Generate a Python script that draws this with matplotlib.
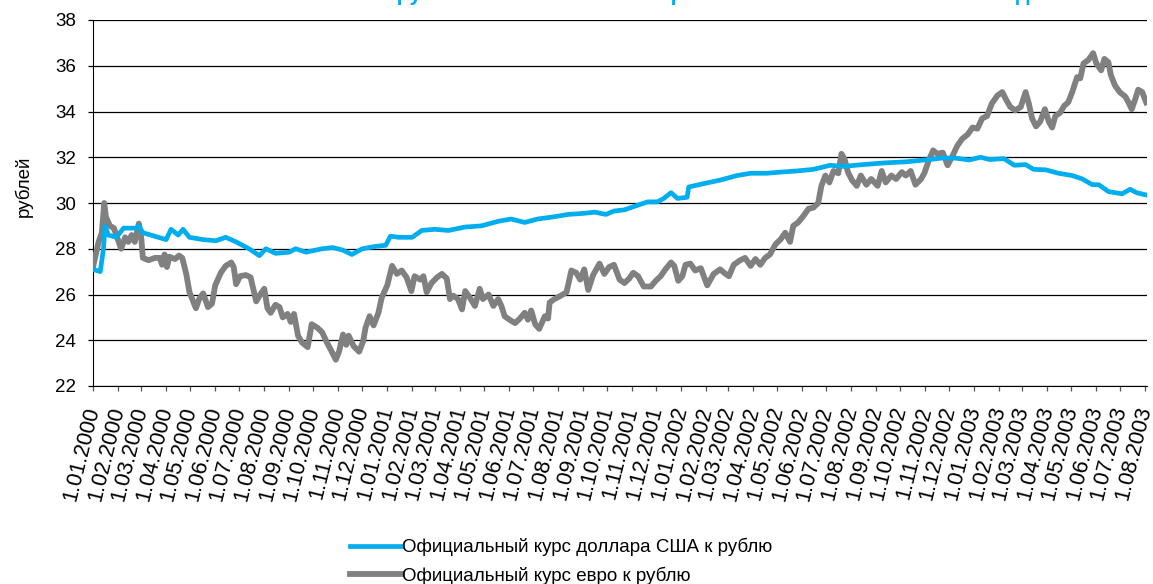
import numpy as np
import matplotlib
matplotlib.use("Agg")
import matplotlib.pyplot as plt
import matplotlib.dates as mdates
from matplotlib.ticker import FuncFormatter, MultipleLocator
from matplotlib.transforms import ScaledTranslation

plt.rcParams['font.family'] = ['Liberation Sans', 'DejaVu Sans']

title = "Стоимость рубля по отношению к евро и валюте США в 2000-2003 годах"
y_label = "рублей"
usd_label = "Официальный курс доллара США к рублю"
eur_label = "Официальный курс евро к рублю"

# days since 1.01.2000
usd_days = [0, 9, 13, 15, 19, 29, 38, 54, 57, 62, 91, 97, 106, 112, 120, 137, 153, 165, 178,
            194, 207, 215, 227, 244, 252, 265, 285, 298, 310, 322, 335, 351, 364, 370, 380,
            397, 409, 425, 442, 463, 483, 504, 520, 537, 553, 574, 591, 611, 624, 638, 648,
            661, 673, 690, 702, 710, 719, 727, 739, 741, 760, 780, 801, 818, 838, 855, 875,
            896, 917, 933, 958, 983, 1011, 1040, 1057, 1073, 1090, 1104, 1115, 1133, 1146,
            1160, 1170, 1185, 1201, 1218, 1230, 1243, 1251, 1263, 1280, 1290, 1298, 1310]
usd_vals = [27.1, 27.0, 28.0, 29.0, 28.6, 28.5, 28.9, 28.9, 29.0, 28.7, 28.4, 28.85, 28.6,
            28.85, 28.5, 28.4, 28.35, 28.5, 28.3, 28.0, 27.7, 28.0, 27.8, 27.85, 28.0, 27.85,
            28.0, 28.05, 27.95, 27.75, 28.0, 28.1, 28.15, 28.55, 28.5, 28.5, 28.8, 28.85,
            28.8, 28.95, 29.0, 29.2, 29.3, 29.15, 29.3, 29.4, 29.5, 29.55, 29.6, 29.5, 29.65,
            29.7, 29.85, 30.05, 30.05, 30.2, 30.45, 30.2, 30.25, 30.7, 30.85, 31.0, 31.2,
            31.3, 31.3, 31.35, 31.4, 31.47, 31.65, 31.6, 31.68, 31.75, 31.8, 31.9, 31.97,
            31.96, 31.88, 32.0, 31.9, 31.94, 31.65, 31.68, 31.47, 31.45, 31.3, 31.2, 31.06,
            30.8, 30.8, 30.5, 30.4, 30.6, 30.45, 30.35]

eur_days = [0, 7, 11, 14, 16, 21, 26, 31, 35, 40, 44, 48, 52, 57, 60, 62, 69, 77, 83, 86,
            89, 92, 95, 102, 107, 111, 116, 120, 128, 132, 137, 143, 148, 152, 159, 165,
            172, 175, 178, 183, 190, 196, 203, 208, 213, 217, 221, 227, 232, 236, 242, 246,
            250, 255, 260, 267, 272, 279, 285, 291, 297, 302, 306, 311, 315, 318, 324, 331,
            336, 339, 344, 349, 355, 359, 366, 372, 378, 384, 390, 396, 400, 407, 411, 415,
            421, 428, 434, 440, 444, 448, 454, 459, 463, 469, 475, 481, 485, 492, 498, 504,
            508, 512, 518, 525, 531, 537, 541, 545, 550, 555, 562, 566, 568, 574, 582, 589,
            595, 601, 606, 611, 616, 622, 630, 636, 642, 648, 655, 661, 667, 672, 678, 685,
            694, 700, 706, 712, 719, 723, 728, 733, 737, 743, 749, 756, 764, 772, 780, 785,
            791, 797, 805, 811, 818, 824, 830, 836, 842, 849, 855, 861, 867, 871, 877, 884,
            890, 896, 902, 906, 911, 916, 921, 927, 931, 935, 939, 944, 950, 955, 962, 968,
            976, 981, 986, 993, 999, 1006, 1011, 1017, 1023, 1030, 1034, 1040, 1045, 1050,
            1057, 1063, 1069, 1075, 1081, 1088, 1094, 1100, 1106, 1112, 1118, 1125, 1131,
            1136, 1141, 1147, 1154, 1160, 1164, 1168, 1173, 1178, 1184, 1189, 1193, 1197,
            1203, 1208, 1213, 1218, 1224, 1228, 1232, 1238, 1244, 1248, 1254, 1258, 1263,
            1266, 1271, 1277, 1284, 1288, 1292, 1296, 1300, 1305, 1310]
eur_vals = [27.2, 28.3, 28.7, 30.0, 29.4, 29.0, 28.9, 28.4, 28.0, 28.5, 28.3, 28.6, 28.3,
            29.1, 28.5, 27.6, 27.5, 27.6, 27.6, 27.3, 27.75, 27.2, 27.65, 27.55, 27.7, 27.6,
            26.9, 26.1, 25.4, 25.8, 26.05, 25.45, 25.6, 26.4, 26.95, 27.25, 27.4, 27.2,
            26.45, 26.8, 26.85, 26.75, 25.7, 26.0, 26.25, 25.4, 25.2, 25.55, 25.45, 25.0,
            25.15, 24.8, 25.15, 24.2, 23.9, 23.7, 24.7, 24.55, 24.35, 23.9, 23.5, 23.15,
            23.5, 24.25, 23.8, 24.2, 23.75, 23.5, 23.95, 24.55, 25.05, 24.65, 25.2, 25.85,
            26.4, 27.25, 26.9, 27.05, 26.75, 26.15, 26.8, 26.65, 26.8, 26.1, 26.5, 26.75,
            26.9, 26.7, 25.8, 25.95, 25.8, 25.35, 26.15, 25.85, 25.5, 26.25, 25.8, 26.0,
            25.5, 25.8, 25.5, 25.05, 24.9, 24.75, 24.95, 25.2, 24.9, 25.3, 24.7, 24.5, 25.05,
            24.95, 25.65, 25.8, 25.95, 26.1, 27.05, 26.95, 26.65, 27.1, 26.2, 26.85, 27.35,
            26.9, 27.2, 27.3, 26.65, 26.5, 26.7, 26.95, 26.8, 26.35, 26.35, 26.6, 26.8,
            27.1, 27.4, 27.25, 26.6, 26.8, 27.3, 27.35, 27.05, 27.15, 26.4, 26.9, 27.1,
            26.95, 26.8, 27.3, 27.5, 27.6, 27.25, 27.55, 27.3, 27.6, 27.75, 28.2, 28.4,
            28.7, 28.3, 29.0, 29.15, 29.45, 29.75, 29.8, 30.0, 30.75, 31.2, 30.9, 31.4,
            31.3, 32.15, 31.9, 31.35, 31.0, 30.75, 31.2, 30.8, 31.05, 30.75, 31.4, 30.9,
            31.2, 31.05, 31.35, 31.2, 31.4, 30.8, 31.05, 31.3, 31.9, 32.3, 32.15, 32.2,
            31.65, 32.05, 32.5, 32.8, 33.0, 33.3, 33.25, 33.7, 33.8, 34.35, 34.7, 34.85,
            34.5, 34.2, 34.05, 34.2, 34.85, 34.35, 33.7, 33.35, 33.55, 34.1, 33.55, 33.3,
            33.8, 33.95, 34.25, 34.4, 34.85, 35.5, 35.45, 36.1, 36.25, 36.55, 36.1, 35.8,
            36.3, 36.15, 35.6, 35.15, 34.85, 34.65, 34.4, 34.1, 34.5, 34.95, 34.85, 34.4]

BLUE = '#00AEEF'
GRAY = '#808080'

W, H = 1153, 584
fig = plt.figure(figsize=(W / 100, H / 100), dpi=100)
ax = fig.add_axes([93 / W, 1 - 386 / H, (1147 - 93) / W, (386 - 20) / H])

start = np.datetime64('2000-01-01')
ux = start + np.array(usd_days, dtype='timedelta64[D]')
ex = start + np.array(eur_days, dtype='timedelta64[D]')

ax.plot(ex, eur_vals, color=GRAY, lw=4.2, solid_joinstyle='round', label=eur_label, zorder=3)
ax.plot(ux, usd_vals, color=BLUE, lw=3.4, solid_joinstyle='round', label=usd_label, zorder=4)

ax.set_ylim(22, 38)
ax.yaxis.set_major_locator(MultipleLocator(2))
ax.set_xlim(start, start + np.timedelta64(1311, 'D'))
ax.xaxis.set_major_locator(mdates.MonthLocator())
ax.xaxis.set_major_formatter(FuncFormatter(
    lambda v, p: (lambda d: f"{d.day}.{d.month:02d}.{d.year}")(mdates.num2date(v))))

ax.grid(axis='y', color='black', lw=0.9)
ax.set_axisbelow(True)
for s in ['top', 'right']:
    ax.spines[s].set_visible(False)
ax.spines['left'].set_color('black')
ax.spines['bottom'].set_color('black')
ax.tick_params(axis='y', direction='out', length=3.6, width=0.9, color='black',
               labelsize=13.5, pad=8.5)
ax.tick_params(axis='x', direction='out', length=3.6, width=0.9, color='#555555',
               labelsize=15.5, pad=11)
shift = ScaledTranslation(-2 / 100, 0, fig.dpi_scale_trans)
for lbl in ax.get_xticklabels():
    lbl.set_rotation(76)
    lbl.set_ha('right')
    lbl.set_va('center_baseline')
    lbl.set_rotation_mode('anchor')
    lbl.set_transform(lbl.get_transform() + shift)

ax.set_ylabel(y_label, fontsize=13.5)
ax.yaxis.set_label_coords(-0.057, 0.546)

h, l = ax.get_legend_handles_labels()
fig.legend(h[::-1], l[::-1], loc='upper left', bbox_to_anchor=(350 / W, 1 - 538 / H),
           frameon=False, fontsize=13.5, handlelength=2.75, handletextpad=0.05,
           borderpad=0, borderaxespad=0, labelspacing=0.55)

fig.text(274 / W, 1.0, title, ha='left', va='baseline', fontsize=15.5,
         fontweight='bold', color=BLUE)

fig.savefig('out.png', dpi=100)
